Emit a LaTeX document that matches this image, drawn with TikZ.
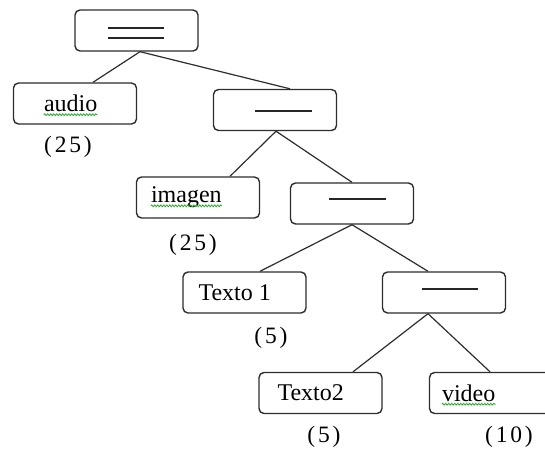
\documentclass[tikz,border=0pt]{standalone}
\usepackage{fontspec}
\setmainfont{Liberation Serif}
\newfontfamily\countfont[LetterSpace=12]{Liberation Serif}
\usetikzlibrary{decorations.pathmorphing}
\definecolor{edge}{RGB}{45,45,45}
\definecolor{spell}{RGB}{40,170,40}
\tikzset{
  treebox/.style={draw=edge, line width=1.4pt, rounded corners=5pt,
    minimum width=123pt, minimum height=41pt, inner sep=0pt},
  boxtext/.style={anchor=west, inner sep=0pt, font=\fontsize{24}{28}\selectfont},
  count/.style={inner sep=0pt, font=\fontsize{23.5}{28}\selectfont\countfont},
  link/.style={draw=edge, line width=1.2pt},
  blank/.style={draw=black!85, line width=1.8pt},
  squiggle/.style={draw=spell, line width=0.8pt,
    decorate, decoration={snake, amplitude=0.9pt, segment length=3pt}}
}
\begin{document}
\begin{tikzpicture}[x=1pt, y=-1pt]
\useasboundingbox (0,0) rectangle (545,449);
\clip (0,0) rectangle (545,449);

% boxes of the tree
\node[treebox] (root)   at (136.5,30.5) {};
\node[treebox] (audio)  at (75,103.5)   {};
\node[treebox] (mid1)   at (275,110)    {};
\node[treebox] (imagen) at (198,197.5)  {};
\node[treebox] (mid2)   at (352,203.5)  {};
\node[treebox] (texto1) at (244.5,292.5) {};
\node[treebox] (mid3)   at (444,292.5)  {};
\node[treebox] (texto2) at (320.5,393)  {};
\node[treebox] (video)  at (491,393)    {};

% blanks inside the inner boxes
\draw[blank] ([xshift=-29pt,yshift=2.5pt]root.center) -- ([xshift=27pt,yshift=2.5pt]root.center);
\draw[blank] ([xshift=-29pt,yshift=-7.5pt]root.center) -- ([xshift=27pt,yshift=-7.5pt]root.center);
\draw[blank] ([xshift=-20pt,yshift=-1pt]mid1.center) -- ([xshift=37pt,yshift=-1pt]mid1.center);
\draw[blank] ([xshift=-23pt,yshift=4.5pt]mid2.center) -- ([xshift=34pt,yshift=4.5pt]mid2.center);
\draw[blank] ([xshift=-22pt,yshift=3.5pt]mid3.center) -- ([xshift=34pt,yshift=3.5pt]mid3.center);

% words in the leaves
\node[boxtext] (taudio)  at ([xshift=31pt]audio.west)   {audio};
\node[boxtext] (timagen) at ([xshift=15pt]imagen.west)  {imagen};
\node[boxtext] (ttexto1) at ([xshift=16pt]texto1.west)  {Texto 1};
\node[boxtext] (ttexto2) at ([xshift=19pt]texto2.west)  {Texto2};
\node[boxtext] (tvideo)  at ([xshift=13pt]video.west)   {video};

% spell-check underlines
\draw[squiggle] ([yshift=-3pt]taudio.base west) -- ([yshift=-3pt]taudio.base east);
\draw[squiggle] ([yshift=-3pt]timagen.base west) -- ([yshift=-3pt]timagen.base east);
\draw[squiggle] ([yshift=-3pt]tvideo.base west) -- ([yshift=-3pt]tvideo.base east);

% weights under the leaves
\node[count] (caudio)  at (68,147)  {(25)};
\node[count] (cimagen) at (193,245) {(25)};
\node[count] (ctexto1) at (271,338) {(5)};
\node[count] (ctexto2) at (324,437) {(5)};
\node[count] (cvideo)  at (509,437) {(10)};

% branches
\draw[link] ([xshift=3.5pt]root.south) -- ([xshift=18pt]audio.north);
\draw[link] ([xshift=3.5pt]root.south) -- ([xshift=15pt]mid1.north);
\draw[link] ([xshift=1pt]mid1.south) -- ([xshift=32pt]imagen.north);
\draw[link] ([xshift=1pt]mid1.south) -- (mid2.north);
\draw[link] (mid2.south) -- ([xshift=15.5pt]texto1.north);
\draw[link] (mid2.south) -- ([xshift=-16pt]mid3.north);
\draw[link] ([xshift=-16pt]mid3.south) -- ([xshift=32.5pt]texto2.north);
\draw[link] ([xshift=-16pt]mid3.south) -- ([xshift=-1pt]video.north);
\end{tikzpicture}
\end{document}
